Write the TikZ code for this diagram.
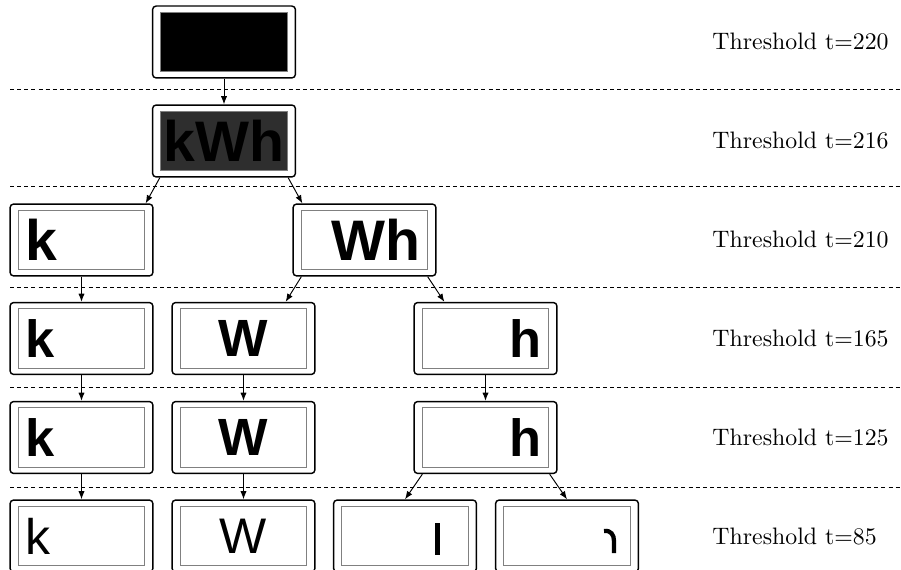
\documentclass[tikz,border=0pt]{standalone}
\usepackage{fontspec}
\newfontfamily\glyphfont{Liberation Sans}
\usetikzlibrary{arrows.meta}
\tikzset{imgbox/.style={draw,line width=0.6pt,rounded corners=1.5pt,minimum width=60pt,minimum height=30.2pt,inner sep=0pt,text width=47pt,
  path picture={\draw[gray,line width=0.4pt,sharp corners,fill=#1] ([shift={(3.4pt,-2.7pt)}]path picture bounding box.north west) rectangle ([shift={(-3.4pt,2.7pt)}]path picture bounding box.south east);}},
  imgbox/.default=white}

\begin{document}
\begin{tikzpicture}[x=0.42pt,y=-0.42pt,>={Latex[length=3.4pt,width=2.6pt]}]
\tikzstyle{bigglyph}=[font=\glyphfont\bfseries\fontsize{24}{24}\selectfont]
\tikzstyle{boldglyph}=[font=\glyphfont\bfseries\fontsize{22}{22}\selectfont]
\tikzstyle{thinglyph}=[font=\glyphfont\fontsize{21}{21}\selectfont]
\tikzstyle{sep}=[dashed,dash pattern=on 1.7pt off 1.3pt]
\useasboundingbox (0,0) rectangle (901,570);
% level separators
\foreach \y in {89,186,287,387,487}
  \draw[sep] (10,\y) -- (901,\y);
\foreach \t/\y [count=\i] in {220/42,216/141,210/240,165/338.5,125/437.5,85/536}
  \node[anchor=west] (thr\i) at (704,\y) {Threshold t=\t};
% t=220, t=216
\node[imgbox=black] (full) at (224,42) {};
\node[imgbox=black!82,bigglyph,text width=58pt,align=center] (kwh) at (224,141) {kWh};
% t=210
\node[imgbox,bigglyph,align=left] (k3) at (81.5,240) {k};
\node[imgbox,bigglyph,align=right] (wh3) at (364.5,240) {Wh};
% t=165
\node[imgbox,boldglyph,align=left] (k4) at (81.5,338.5) {k};
\node[imgbox,boldglyph,align=center] (w4) at (243.5,338.5) {W};
\node[imgbox,boldglyph,align=right] (h4) at (485.5,338.5) {h};
% t=125
\node[imgbox,boldglyph,align=left] (k5) at (81.5,437.5) {k};
\node[imgbox,boldglyph,align=center] (w5) at (243.5,437.5) {W};
\node[imgbox,boldglyph,align=right] (h5) at (485.5,437.5) {h};
% t=85
\node[imgbox,thinglyph,align=left] (k6) at (81.5,536) {k};
\node[imgbox,thinglyph,align=center] (w6) at (243.5,536) {W};
\node[imgbox] (hl6) at (405,536) {};
\node[imgbox] (hr6) at (567,536) {};
\draw[line width=1.8pt] (437.5,523) -- (437.5,555);
\draw[line width=1.8pt] (604,531) .. controls (611,530) and (614,535) .. (614,541) -- (614,553);
% splits
\draw[->] (full) -- (kwh);
\draw[->] ([shift={(8,0)}]kwh.south west) -- ([shift={(-8,0)}]k3.north east);
\draw[->] ([shift={(-8,0)}]kwh.south east) -- ([shift={(10,0)}]wh3.north west);
\draw[->] (k3) -- (k4);
\draw[->] ([shift={(9,0)}]wh3.south west) -- ([shift={(-30,0)}]w4.north east);
\draw[->] ([shift={(-9,0)}]wh3.south east) -- ([shift={(31,0)}]h4.north west);
\draw[->] (k4) -- (k5);
\draw[->] (w4) -- (w5);
\draw[->] (h4) -- (h5);
\draw[->] (k5) -- (k6);
\draw[->] (w5) -- (w6);
\draw[->] ([shift={(9,0)}]h5.south west) -- (hl6.north);
\draw[->] ([shift={(-8,0)}]h5.south east) -- (hr6.north);
\end{tikzpicture}
\end{document}
